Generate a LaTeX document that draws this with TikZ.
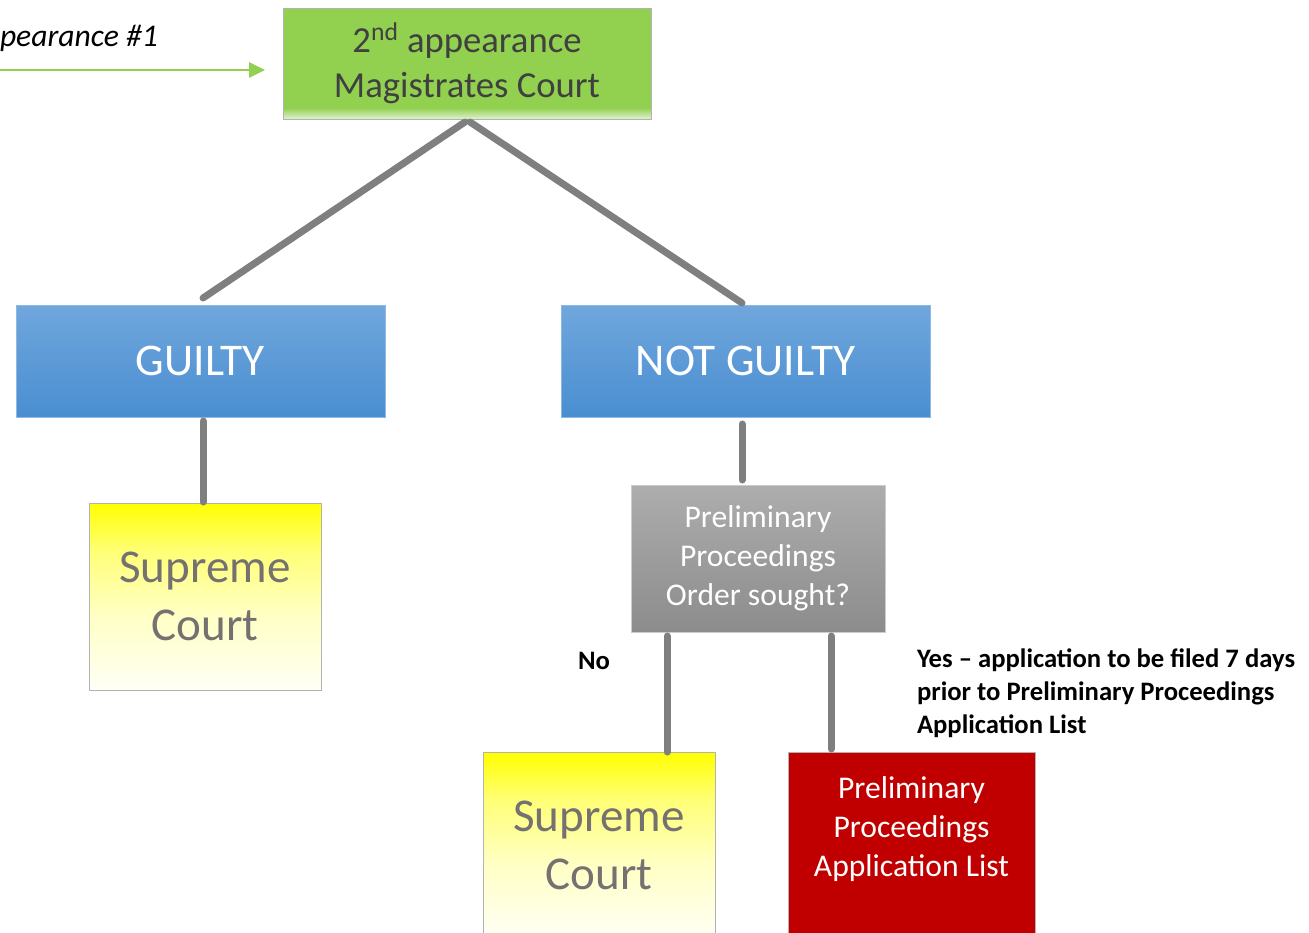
\documentclass[tikz,border=0pt]{standalone}
\usepackage{fontspec}
\setmainfont{Carlito}
\usetikzlibrary{calc,arrows.meta}
\definecolor{courtgreen}{HTML}{92D050}
\definecolor{fadegreen}{HTML}{E2F1D3}
\definecolor{linkgray}{HTML}{7F7F7F}
\definecolor{textgray}{HTML}{767171}
\definecolor{darktext}{HTML}{404040}
\definecolor{pleablue}{HTML}{70A7DD}
\definecolor{pleabluedark}{HTML}{4A8ED0}
\definecolor{askgray}{HTML}{ADADAD}
\definecolor{askgraydark}{HTML}{8C8C8C}
\definecolor{listred}{HTML}{C00000}
\definecolor{paleyellow}{HTML}{FFFFF6}
\definecolor{lightyellow}{HTML}{FFFFC4}
\definecolor{midyellow}{HTML}{FFFF78}
\pgfdeclareverticalshading{greenfade}{100bp}{color(0bp)=(fadegreen); color(25bp)=(fadegreen); color(30bp)=(courtgreen); color(100bp)=(courtgreen)}
\pgfdeclareverticalshading{yellowfade}{100bp}{color(0bp)=(paleyellow); color(25bp)=(paleyellow); color(45bp)=(lightyellow); color(62bp)=(midyellow); color(75bp)=(yellow); color(100bp)=(yellow)}
\begin{document}
\begin{tikzpicture}[x=0.75pt,y=-0.75pt,
  every node/.style={inner sep=0pt,outer sep=0pt},
  link/.style={draw=linkgray,line width=5.25pt,line cap=round},
  panel/.style={draw=gray!60,line width=0.75pt,align=center},
  courtbox/.style={panel,shade,shading=greenfade,minimum width=276pt,minimum height=83.25pt,text=darktext,font=\fontsize{27.5}{33.5}\selectfont},
  pleabox/.style={panel,draw=pleablue!80!white,top color=pleablue,bottom color=pleabluedark,minimum width=276.75pt,minimum height=84pt,text=white,font=\fontsize{34}{41}\selectfont},
  supremebox/.style={panel,shade,shading=yellowfade,minimum width=174pt,minimum height=140.25pt,text=textgray,font=\fontsize{35.3}{43.5}\selectfont},
  askbox/.style={panel,draw=gray!40,top color=askgray,bottom color=askgraydark,minimum width=190.5pt,minimum height=110.25pt,text=white,font=\fontsize{23.7}{29.25}\selectfont},
  listbox/.style={panel,fill=listred,minimum width=185.25pt,minimum height=140.25pt},
  answer/.style={font=\bfseries\fontsize{20}{24.75}\selectfont,align=left}]
\path[use as bounding box] (0,0) rectangle (1309,932);
\clip (0,0) rectangle (1309,932);
\node[courtbox] (court) at (467,63.5) {2\textsuperscript{nd} appearance\\Magistrates Court};
\node[pleabox] (guilty) at (200.5,361) {GUILTY};
\node[pleabox] (notguilty) at (745.5,361) {NOT GUILTY};
\node[supremebox] (supreme) at (205,596.5) {Supreme\\Court};
\node[askbox] (order) at (758,558.5) {Preliminary\\Proceedings\\Order sought?};
\node[supremebox] (supremeB) at (599,845.5) {Supreme\\Court};
\node[listbox] (list) at (911.5,845.5) {};
\node[align=center,text=white,font=\fontsize{23.7}{29.25}\selectfont] (listtext) at ($(list.center)+(0,-16)$) {Preliminary\\Proceedings\\Application List};
\node[answer] (no) at (594,661) {No};
\node[answer,anchor=north west] (yes) at (917,649) {Yes -- application to be filed 7 days\\prior to Preliminary Proceedings\\Application List};
\node[font=\itshape\fontsize{23.7}{28}\selectfont,anchor=base west] (earlier) at (0,46) {pearance \#1};
\coordinate (start) at (0,70);
\draw[draw=courtgreen,line width=1.5pt,-{Triangle[length=12pt,width=11.5pt]}] (start) -- ($(court.west)+(-18,6.5)$);
\draw[link] ($(court.south)+(-2,3)$) -- ($(guilty.north)+(2.5,-7)$);
\draw[link] ($(court.south)+(3,3)$) -- ($(notguilty.north)+(-3.5,-2)$);
\draw[link] ($(guilty.south)+(2.5,4)$) -- ($(supreme.north)+(-2,-1)$);
\draw[link] ($(notguilty.south)+(-3.5,7)$) -- ($(order.north)+(-16,-5)$);
\draw[link] ($(order.south)+(-91,4)$) -- ($(supremeB.north)+(68,0)$);
\draw[link] ($(order.south)+(73,4)$) -- ($(list.north)+(-80.5,-3)$);
\end{tikzpicture}
\end{document}
